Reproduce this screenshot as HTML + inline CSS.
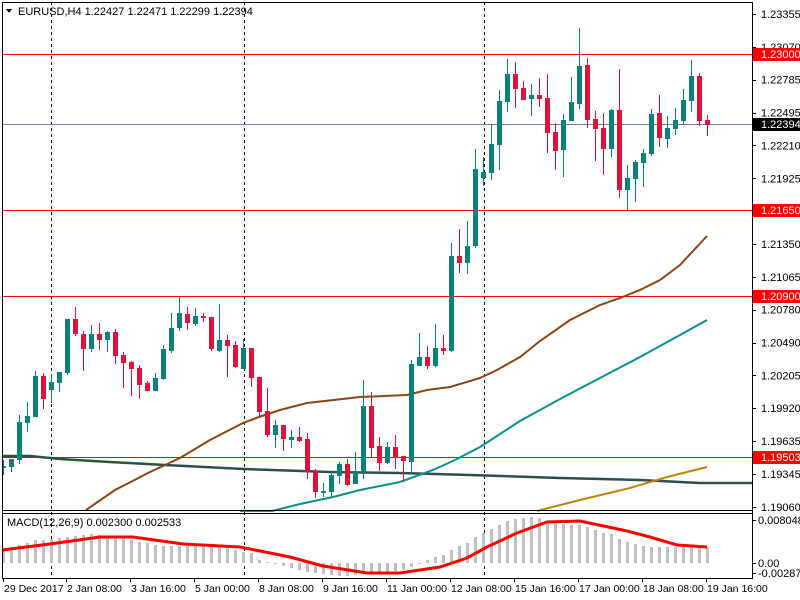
<!DOCTYPE html>
<html><head><meta charset="utf-8"><style>
html,body{margin:0;padding:0;background:#fff;width:800px;height:600px;overflow:hidden}
svg{display:block;font-family:"Liberation Sans",sans-serif}
</style></head><body>
<svg id="s" width="800" height="600" viewBox="0 0 800 600" xmlns="http://www.w3.org/2000/svg" shape-rendering="crispEdges">
<rect width="800" height="600" fill="#fff"/>
<g id="grid"></g>
<g id="ma"></g>
<g id="c"></g>
<g id="m"></g>
<g id="ax"></g>
</svg>
<script>
var NS="http://www.w3.org/2000/svg";
function el(p,t,a,txt){var e=document.createElementNS(NS,t);for(var k in a)e.setAttribute(k,a[k]);if(txt!=null)e.textContent=txt;document.getElementById(p).appendChild(e);return e;}
[51,244,484].forEach(function(x){el("grid","line",{x1:x+.5,y1:2,x2:x+.5,y2:578,stroke:"#000","stroke-dasharray":"3,3","stroke-width":1});});
[54,210,296,457].forEach(function(y){el("grid","line",{x1:2,y1:y+.5,x2:752,y2:y+.5,stroke:"#ff0000","stroke-width":1});});
el("grid","line",{x1:2,y1:124.5,x2:752,y2:124.5,stroke:"#708090","stroke-width":1});
function pl(pts,col,w){el("ma","polyline",{points:pts.map(function(p){return p.join(",")}).join(" "),fill:"none",stroke:col,"stroke-width":w,"shape-rendering":"auto"});}
pl([[2,456],[30,456],[60,459],[110,462],[165,465],[244,469],[330,472],[400,473],[470,475],[560,478],[640,480],[700,483],[752,483]],"#2f4f4f",2.5);
pl([[86,510],[115,490],[150,472],[180,458],[210,440],[243,423],[259,417],[280,410],[307,403],[360,397],[407,395],[427,390],[450,387],[480,378],[497,370],[520,357],[540,341],[570,320],[600,305],[620,298],[640,290],[660,280],[680,265],[707,236]],"#8b4513",2);
pl([[240,511],[272,511],[300,504],[333,497],[360,490],[400,482],[433,470],[455,460],[480,447],[520,421],[560,399],[600,378],[640,357],[680,335],[707,320]],"#0a8f8a",2);
pl([[537,511],[580,500],[630,488],[667,477],[707,467]],"#b8860b",2);
var C=[[468,466,460,475],[467,459,459,472],[460,422,415,464],[423,416,402,432],[417,376,371,417],[376,399,373,409],[390,382,374,403],[383,372,372,392],[373,319,319,375],[319,334,307,336],[334,349,331,371],[349,334,325,352],[334,340,323,350],[340,332,331,352],[332,356,329,364],[355,363,352,388],[362,369,361,396],[368,385,365,399],[383,391,381,391],[391,378,373,391],[379,349,345,380],[351,328,313,353],[328,313,297,331],[314,323,307,330],[324,316,308,326],[316,318,313,322],[317,349,317,351],[351,340,304,352],[340,346,335,377],[345,367,341,368],[369,348,339,369],[348,378,348,387],[377,412,377,418],[411,435,388,437],[435,425,420,448],[425,439,425,451],[440,437,430,448],[437,441,427,442],[439,472,433,479],[471,492,469,498],[492,491,483,497],[492,475,471,497],[476,464,462,484],[464,485,459,486],[484,471,452,484],[472,406,380,479],[406,448,392,457],[446,463,437,471],[463,447,442,464],[447,457,435,469],[456,461,456,482],[462,364,360,474],[366,357,333,366],[357,366,346,369],[366,348,324,367],[348,351,335,355],[351,256,243,352],[256,263,229,273],[263,246,221,274],[246,169,149,248],[178,172,157,186],[173,144,124,180],[145,101,90,170],[102,74,59,112],[74,89,62,108],[88,100,81,100],[99,95,84,116],[95,99,78,107],[98,133,74,153],[132,151,123,170],[150,120,114,177],[121,102,77,121],[104,66,28,109],[65,120,58,128],[119,129,111,161],[128,149,113,175],[149,110,109,157],[110,190,69,198],[190,178,165,210],[179,162,160,202],[163,153,149,187],[154,114,109,156],[113,138,95,147],[139,128,116,148],[129,120,108,135],[121,100,89,125],[101,76,60,112],[76,121,73,126],[120,125,115,136]];
C.forEach(function(d,i){var x=3+8*i,bull=d[1]<d[0],col=bull?"#0b7f7b":"#dc143c";
 el("c","rect",{x:x,y:d[2],width:1,height:Math.max(1,d[3]-d[2]),fill:col});
 var t=Math.min(d[0],d[1]),h=Math.max(2,Math.abs(d[0]-d[1]));
 el("c","rect",{x:x-2,y:t,width:5,height:h,fill:col});});
var H=[[3,548],[19,545],[35,540],[51,539],[83,535],[91,534],[123,537],[131,540],[147,543],[163,546],[219,546],[233,550],[251,553],[259,560],[268,562],[275,563],[283,566],[299,570],[315,573],[331,575],[347,576],[363,573],[395,571],[403,570],[411,567],[419,563],[427,560],[435,557],[443,555],[451,550],[459,546],[467,543],[475,537],[483,533],[491,529],[499,525],[507,521],[515,519],[531,517],[539,518],[547,521],[563,524],[579,525],[587,527],[595,530],[603,533],[611,534],[619,539],[627,542],[635,544],[643,546],[659,547],[707,547]];
function interp(x){for(var k=0;k<H.length-1;k++){if(x>=H[k][0]&&x<=H[k+1][0]){var f=(x-H[k][0])/(H[k+1][0]-H[k][0]);return H[k][1]+f*(H[k+1][1]-H[k][1]);}}return H[H.length-1][1];}
var Z=563;
for(var i=0;i<89;i++){var x=3+8*i,y=Math.round(interp(x));el("m","rect",{x:x-1,y:Math.min(y,Z),width:3,height:Math.max(1,Math.abs(Z-y)),fill:"#c0c0c0"});}
el("m","polyline",{points:"2,550 50,544 100,537 133,537 183,544 240,547 290,557 323,566 367,573 400,573 440,567 467,558 487,547 517,533 547,522 580,521 627,531 650,537 677,545 707,547",fill:"none",stroke:"#ff0000","stroke-width":3,"shape-rendering":"auto"});
el("ax","rect",{x:0,y:0,width:2,height:600,fill:"#fff"});
el("ax","line",{x1:2.5,y1:2,x2:2.5,y2:578,stroke:"#000"});
el("ax","line",{x1:752.5,y1:2,x2:752.5,y2:579,stroke:"#000"});
el("ax","line",{x1:2,y1:510.5,x2:753,y2:510.5,stroke:"#000"});
el("ax","line",{x1:2,y1:513.5,x2:753,y2:513.5,stroke:"#000"});
el("ax","line",{x1:2,y1:578.5,x2:753,y2:578.5,stroke:"#000"});
el("ax","line",{x1:2,y1:2.5,x2:753,y2:2.5,stroke:"#000"});
var P=["1.23355","1.23070","1.22785","1.22495","1.22210","1.21925","","1.21350","1.21065","1.20780","1.20490","1.20205","1.19920","1.19635","1.19345","1.19060"];
P.forEach(function(t,i){if(!t)return;var y=14+i*32.85;el("ax","line",{x1:752,y1:Math.round(y)+.5,x2:756,y2:Math.round(y)+.5,stroke:"#000"});el("ax","text",{x:761,y:y+4,"font-size":"11",fill:"#000"},t);});
function tag(y,t,bg){el("ax","rect",{x:753,y:y-6,width:47,height:13,fill:bg});el("ax","text",{x:761,y:y+4,"font-size":"11",fill:"#fff"},t);}
tag(54,"1.23000","#ff0000");tag(210,"1.21650","#ff0000");tag(296,"1.20900","#ff0000");tag(457,"1.19503","#ff0000");tag(124,"1.22394","#000");
[[520,"0.008048"],[563,"0.00"],[573,"-0.002873"]].forEach(function(a){el("ax","line",{x1:752,y1:a[0]+.5,x2:756,y2:a[0]+.5,stroke:"#000"});el("ax","text",{x:758,y:a[0]+4,"font-size":"11",fill:"#000"},a[1]);});
var T=[[3,"29 Dec 2017"],[66,"2 Jan 08:00"],[130,"3 Jan 16:00"],[194,"5 Jan 00:00"],[258,"8 Jan 08:00"],[322,"9 Jan 16:00"],[386,"11 Jan 00:00"],[450,"12 Jan 08:00"],[514,"15 Jan 16:00"],[578,"17 Jan 00:00"],[642,"18 Jan 08:00"],[706,"19 Jan 16:00"]];
T.forEach(function(a){el("ax","line",{x1:a[0]+.5,y1:578,x2:a[0]+.5,y2:582,stroke:"#000"});el("ax","text",{x:a[0]+1,y:592,"font-size":"10.5",fill:"#000"},a[1]);});
el("ax","polygon",{points:"6,9 12,9 9,13",fill:"#000"});
el("ax","text",{x:18,y:15,"font-size":"11",fill:"#000"},"EURUSD,H4  1.22427 1.22471 1.22299 1.22394");
el("ax","text",{x:7,y:526,"font-size":"11",fill:"#000"},"MACD(12,26,9) 0.002300 0.002533");
</script>
</body></html>
